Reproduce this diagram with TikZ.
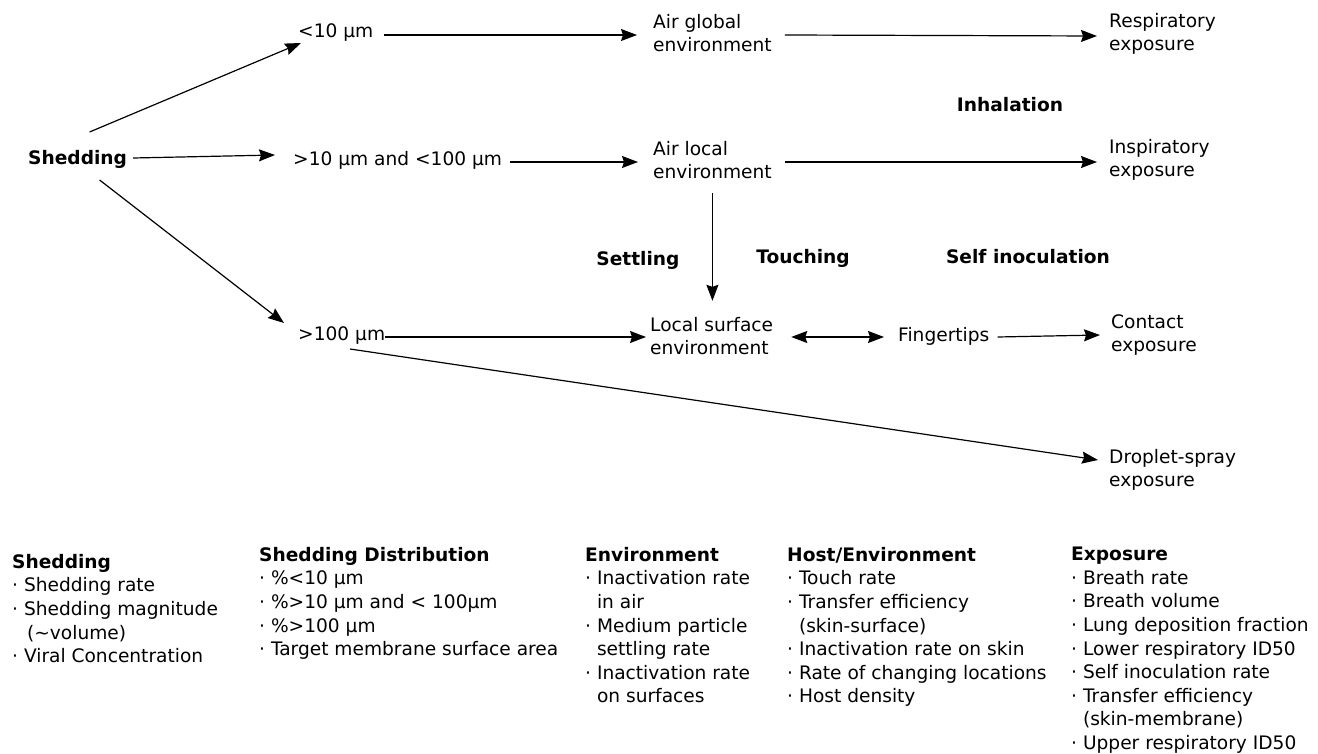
\documentclass[tikz,border=0pt]{standalone}
\usepackage{fontspec}
\setmainfont{DejaVu Sans}
\usetikzlibrary{arrows.meta}

\begin{document}
\begin{tikzpicture}[x=1pt, y=-1pt,
  box/.style={anchor=west, inner sep=0pt, align=left, font=\fontsize{18.6}{23.6}\selectfont},
  head/.style={inner sep=0pt, font=\fontsize{18.6}{23.6}\selectfont\bfseries},
  list/.style={anchor=north west, inner sep=0pt, align=left, font=\fontsize{18.6}{23.6}\selectfont},
  arr/.style={line width=1.2pt, -{Stealth[length=16pt, width=12pt, inset=2pt]}},
  dbl/.style={line width=1.2pt, {Stealth[length=16pt, width=12pt, inset=2pt]}-{Stealth[length=16pt, width=12pt, inset=2pt]}}]

\useasboundingbox (0, 0) rectangle (1318, 754);

\node [head, anchor=west] (shed) at (28, 159) {Shedding};
\node [box] (small) at (298, 33) {<10 µm};
\node [box] (mid) at (293, 160) {>10 µm and <100 µm};
\node [box] (large) at (298, 336) {>100 µm};
\node [box] (aglob) at (653, 33) {Air global\\environment};
\node [box] (aloc) at (653, 160) {Air local\\environment};
\node [box] (surf) at (650, 336) {Local surface\\environment};
\node [box] (finger) at (898, 336) {Fingertips};
\node [box] (resp) at (1109, 34) {Respiratory\\exposure};
\node [box] (insp) at (1109, 160) {Inspiratory\\exposure};
\node [box] (cont) at (1111, 335) {Contact\\exposure};
\node [box] (spray) at (1109, 470) {Droplet-spray\\exposure};

\node [head] (inhal) at (1010, 105) {Inhalation};
\node [head] (settl) at (638, 260) {Settling};
\node [head] (touch) at (803, 258) {Touching};
\node [head] (selfin) at (1028, 257) {Self inoculation};

\draw [arr] ([xshift=12pt, yshift=27pt]shed.center) -- ([xshift=3pt, yshift=-10pt]small.west);
\draw [arr] ([xshift=6pt, yshift=1pt]shed.east) -- ([xshift=-18pt, yshift=5pt]mid.west);
\draw [arr] ([xshift=22pt, yshift=-21pt]shed.center) -- ([xshift=-14pt, yshift=13pt]large.west);
\draw [arr] ([xshift=10pt, yshift=-2pt]small.east) -- ([xshift=-16pt, yshift=-2pt]aglob.west);
\draw [arr] ([xshift=8pt, yshift=-2pt]mid.east) -- ([xshift=-15pt, yshift=-2pt]aloc.west);
\draw [arr] ([yshift=-1pt]large.east) -- ([xshift=-4pt, yshift=-1pt]surf.west);
\draw [arr] ([xshift=52pt, yshift=-13pt]large.west) -- ([xshift=-11pt, yshift=10pt]spray.west);
\draw [arr] ([xshift=13pt, yshift=-2pt]aglob.east) -- ([xshift=-12pt, yshift=-2pt]resp.west);
\draw [arr] ([xshift=13pt, yshift=-2pt]aloc.east) -- ([xshift=-12pt, yshift=-2pt]insp.west);
\draw [arr, shorten <=14pt, shorten >=16pt] (aloc.south) -- (aloc.south |- surf.north);
\draw [dbl] ([xshift=18pt, yshift=-1pt]surf.east) -- ([xshift=-14pt, yshift=-1pt]finger.west);
\draw [arr] ([xshift=8pt, yshift=-1pt]finger.east) -- ([xshift=-11pt]cont.west);

\node [list] (lshed) at (12, 554) {\textbf{Shedding}\\
  · Shedding rate\\
  · Shedding magnitude\\
  \phantom{· }\,(\textasciitilde volume)\\
  · Viral Concentration};
\node [list] (ldist) at (259, 547) {\textbf{Shedding Distribution}\\
  · \%<10 µm\\
  · \%>10 µm and < 100µm\\
  · \%>100 µm\\
  · Target membrane surface area};
\node [list] (lenv) at (585, 547) {\textbf{Environment}\\
  · Inactivation rate\\
  \phantom{· }in air\\
  · Medium particle\\
  \phantom{· }settling rate\\
  · Inactivation rate\\
  \phantom{· }on surfaces};
\node [list] (lhost) at (787, 547) {\textbf{Host/Environment}\\
  · Touch rate\\
  · Transfer efficiency\\
  \phantom{· }(skin-surface)\\
  · Inactivation rate on skin\\
  · Rate of changing locations\\
  · Host density};
\node [list] (lexp) at (1071, 547) {\textbf{Exposure}\\
  · Breath rate\\
  · Breath volume\\
  · Lung deposition fraction\\
  · Lower respiratory ID50\\
  · Self inoculation rate\\
  · Transfer efficiency\\
  \phantom{· }(skin-membrane)\\
  · Upper respiratory ID50};

\end{tikzpicture}
\end{document}
